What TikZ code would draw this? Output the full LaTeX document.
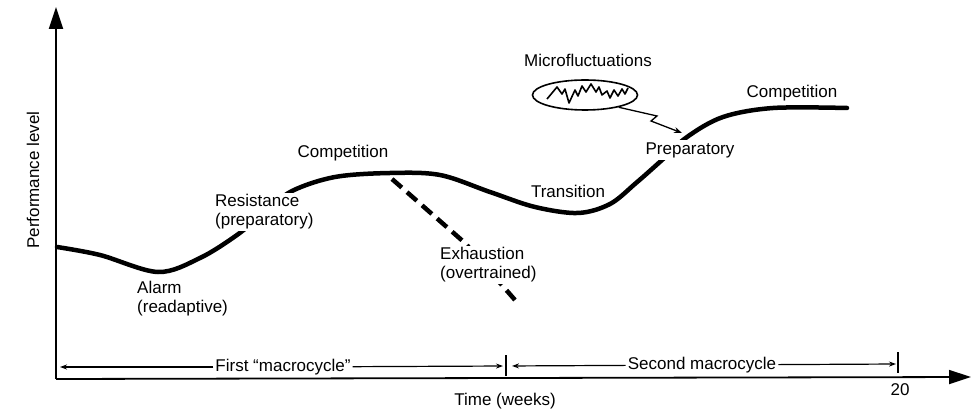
\documentclass[tikz,border=0pt]{standalone}
\usepackage{fontspec}
\setmainfont{Liberation Sans}
\usetikzlibrary{positioning,arrows.meta,shapes.geometric}
\tikzset{d/.style={line width=4.5pt}}

\begin{document}
\begin{tikzpicture}[x=1pt,y=-1pt,
lbl/.style={font=\fontsize{17}{19}\selectfont, align=left, inner sep=2pt, fill=white},
axis/.style={line width=1.8pt, -{Triangle[length=22pt,width=14pt]}},
span/.style={line width=1.2pt, -{Stealth[length=7pt,width=5pt]}},
]
\useasboundingbox (0,0) rectangle (971,411);
% axes
\coordinate (O) at (56,379);
\coordinate (Ytop) at (56,7);
\coordinate (Xend) at (971,377);
\draw[axis] (O) -- (Ytop);
\draw[axis] (O) -- (Xend);
\node[lbl,rotate=90] (perf) at (33,180) {Performance level};
\node[lbl] (time) at (505,401) {Time (weeks)};
\node[lbl,fill=none] (twenty) at (900,390) {20};
% performance curve and overtraining branch
\draw[d,line cap=round] plot[smooth,tension=0.55] coordinates {(57,247) (100,255) (158,272) (200,258) (237,235) (265,212) (292,191) (335,177) (390,173) (440,175) (490,192) (535,207) (578,213) (610,204) (636,183) (662,160) (687,137) (723,117) (773,108) (847,108)};
\draw[d,dash pattern=on 13pt off 7pt] (392,179) -- (465,243) -- (515,300);
% labels
\node[lbl,anchor=west] (alarm) at (135,299) {Alarm\\(readaptive)};
\node[lbl,anchor=west] (resist) at (213,212) {Resistance\\(preparatory)};
\node[lbl] (comp1) at (343,153) {Competition};
\node[lbl] (trans) at (568,191) {Transition};
\node[lbl,anchor=west] (exh) at (438,265) {Exhaustion\\(overtrained)};
\node[lbl] (prep) at (690,150) {Preparatory};
\node[lbl] (comp2) at (792,93) {Competition};
% microfluctuations
\node[lbl] (mtext) at (588,60) {Microfluctuations};
\node[draw,ellipse,line width=1.6pt,minimum width=105pt,minimum height=30pt,inner sep=0pt] (micro) at (585,95) {};
\draw[line width=1.6pt,line join=round] plot coordinates {(547,99) (557,87) (562,94) (565,89) (569,103) (575,90) (578,96) (582,86) (586,92) (591,84) (596,92) (599,87) (602,95) (607,91) (610,98) (614,90) (618,96) (622,89) (625,94) (628,88)};
\coordinate (preptip) at (682,133);
\draw[line width=1.3pt,-{Stealth[length=8pt,width=6pt]}] (micro.-20) -- (657,116) -- (651,121) -- (preptip);
% macrocycles
\coordinate (m0) at (60,367);
\coordinate (m1) at (506,366);
\coordinate (m2) at (898,364);
\node[lbl] (first) at (283,367) {First “macrocycle”};
\node[lbl] (second) at (702,365) {Second macrocycle};
\draw[span] (first) -- (m0);
\draw[span,shorten >=3pt] (first) -- (m1);
\draw[span,shorten >=6pt] (second) -- (m1);
\draw[span,shorten >=2pt] (second) -- (m2);
\draw[line width=1.5pt] (m1) ++(0,-11) -- ++(0,21);
\draw[line width=1.5pt] (m2) ++(0,-12) -- ++(0,21);
\end{tikzpicture}
\end{document}
